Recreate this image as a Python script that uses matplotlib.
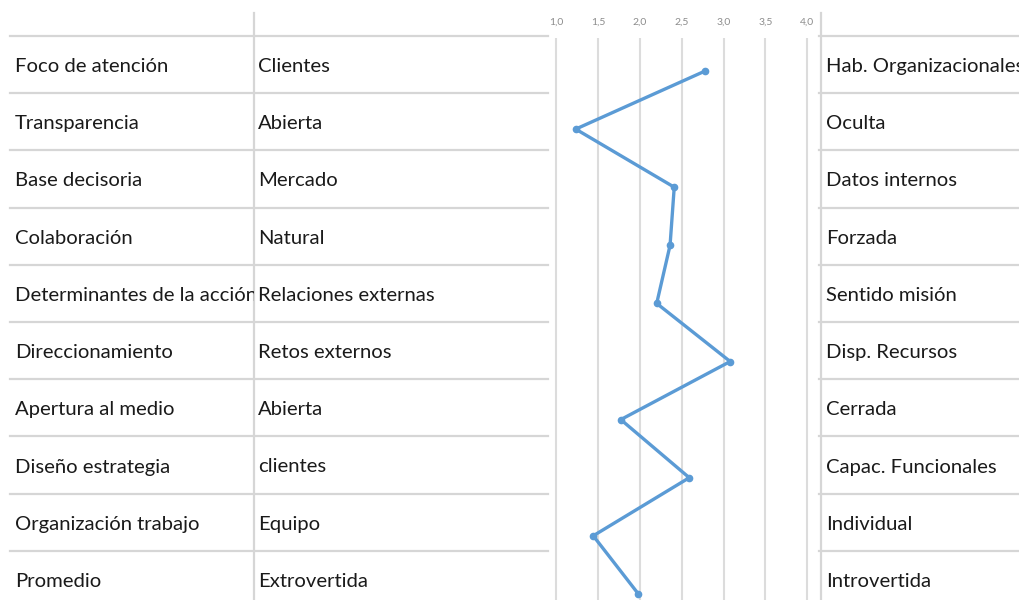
import matplotlib.pyplot as plt

# Table contents and scores
dimensiones = ["Foco de atención", "Transparencia", "Base decisoria", "Colaboración",
               "Determinantes de la acción", "Direccionamiento", "Apertura al medio",
               "Diseño estrategia", "Organización trabajo", "Promedio"]
polo_izq = ["Clientes", "Abierta", "Mercado", "Natural", "Relaciones externas",
            "Retos externos", "Abierta", "clientes", "Equipo", "Extrovertida"]
polo_der = ["Hab. Organizacionales", "Oculta", "Datos internos", "Forzada", "Sentido misión",
            "Disp. Recursos", "Cerrada", "Capac. Funcionales", "Individual", "Introvertida"]
valores = [2.78, 1.23, 2.41, 2.36, 2.20, 3.08, 1.77, 2.59, 1.44, 1.98]
ticks = [1.0, 1.5, 2.0, 2.5, 3.0, 3.5, 4.0]

W, H = 1020, 600
plt.rcParams['font.family'] = ['Lato', 'DejaVu Sans']
fig = plt.figure(figsize=(W / 100, H / 100), dpi=100)

# background axes in pixel coordinates for the table grid
ax = fig.add_axes([0, 0, 1, 1])
ax.set_xlim(0, W)
ax.set_ylim(H, 0)
ax.axis("off")

line_col = "#d6d6d6"
row_top = 36
row_h = 57.2
n = len(dimensiones)

for k in range(n):
    y = row_top + k * row_h
    ax.plot([10, 548], [y, y], color=line_col, lw=1.6)
    ax.plot([819, W], [y, y], color=line_col, lw=1.6)
ax.plot([254, 254], [13, H], color=line_col, lw=1.6)
ax.plot([821, 821], [13, H], color=line_col, lw=1.6)

txt_col = "#1a1a1a"
fs = 14.6
dy_txt = 2

# first column clipped at the cell border
ax_a = fig.add_axes([0, 0, 254 / W, 1])
ax_a.set_xlim(0, 254)
ax_a.set_ylim(H, 0)
ax_a.axis("off")
for i, t in enumerate(dimensiones):
    yc = row_top + (i + 0.5) * row_h + dy_txt
    ax_a.text(15, yc, t, fontsize=fs, color=txt_col, va="center", ha="left", clip_on=True)

for i, t in enumerate(polo_izq):
    yc = row_top + (i + 0.5) * row_h + dy_txt
    ax.text(258, yc, t, fontsize=fs, color=txt_col, va="center", ha="left")
for i, t in enumerate(polo_der):
    yc = row_top + (i + 0.5) * row_h + dy_txt
    ax.text(826, yc, t, fontsize=fs, color=txt_col, va="center", ha="left")

# profile chart
px_per_unit = 83.5
x0_px = 556.5
left_px, right_px = 549, 815
top_px, bot_px = 38, 600
y0_px, dy_px = 71, 58.1
ax_c = fig.add_axes([left_px / W, 1 - bot_px / H, (right_px - left_px) / W, (bot_px - top_px) / H])
ax_c.set_xlim(1 + (left_px - x0_px) / px_per_unit, 1 + (right_px - x0_px) / px_per_unit)
ax_c.set_ylim((bot_px - y0_px) / dy_px, (top_px - y0_px) / dy_px)
ax_c.patch.set_alpha(0)
for s in ax_c.spines.values():
    s.set_visible(False)
for t in ticks:
    ax_c.axvline(t, color="#dcdcdc", lw=1.5, zorder=1)
ax_c.plot(valores, range(n), color="#5b9bd5", lw=2.4, marker="o", ms=4.5,
          solid_joinstyle="round", zorder=3, clip_on=False)
ax_c.xaxis.tick_top()
ax_c.set_xticks(ticks)
ax_c.set_xticklabels([f"{t:.1f}".replace(".", ",") for t in ticks], fontsize=7.5, color="#8c8c8c")
ax_c.tick_params(axis="x", length=0, pad=8)
ax_c.set_yticks([])

fig.savefig("out.png", dpi=100)
